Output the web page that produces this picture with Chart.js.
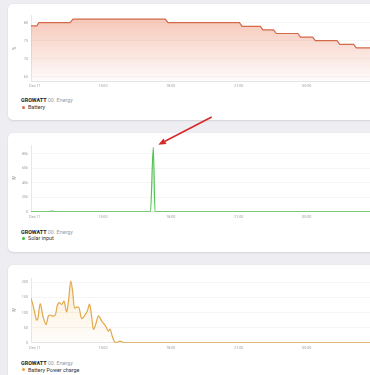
<!DOCTYPE html>
<html><head><meta charset="utf-8">
<script src="https://cdn.jsdelivr.net/npm/chart.js@4"></script>
<style>
html,body{margin:0;padding:0;width:370px;height:375px;overflow:hidden;background:#eeeef2;font-family:Roboto,sans-serif;}
.card{position:absolute;left:8px;width:420px;background:#fff;border-radius:5px;box-shadow:0 1px 2px rgba(0,0,0,0.10),0 0 1px rgba(0,0,0,0.08);}
.card canvas{position:absolute;left:0;}
.t{position:absolute;left:13px;font-size:5.4px;line-height:6px;color:#9b9b9b;white-space:nowrap;}
.t b{color:#222;font-weight:700;}
.l{position:absolute;left:13px;font-size:5.4px;line-height:6px;color:#333;white-space:nowrap;}
.dot{display:inline-block;width:3px;height:3px;border-radius:50%;margin:0 3px 0 1px;vertical-align:0.5px;}
#ov{position:absolute;left:0;top:0;z-index:10;pointer-events:none;}
</style></head>
<body>
<div class="card" id="c1" style="top:4px;height:116px;">
  <canvas id="ch1" width="364" height="84" style="top:4px"></canvas>
  <div class="t" style="top:93px"><b>GROWATT</b> 00. Energy</div>
  <div class="l" style="top:100px"><span class="dot" style="background:#d4694a"></span>Battery</div>
</div>
<div class="card" id="c2" style="top:133px;height:118.5px;">
  <canvas id="ch2" width="364" height="86" style="top:4px"></canvas>
  <div class="t" style="top:96px"><b>GROWATT</b> 00. Energy</div>
  <div class="l" style="top:102px"><span class="dot" style="background:#3dbb3d"></span>Solar input</div>
</div>
<div class="card" id="c3" style="top:265px;height:130px;">
  <canvas id="ch3" width="364" height="85" style="top:4px"></canvas>
  <div class="t" style="top:95px"><b>GROWATT</b> 00. Energy</div>
  <div class="l" style="top:101.5px"><span class="dot" style="background:#e2a336"></span>Battery Power charge</div>
</div>
<canvas id="ov" width="370" height="375"></canvas>
<script>
// x values are hours after Dec 11 12:00
const xTickHours = [0, 3, 6, 9, 12];
const xTickLabels = ['Dec 11', '15:00', '18:00', '21:00', '00:00'];

const batteryHours = [-0.18, 0.08, 0.17, 1.55, 1.68, 5.75, 5.88, 9.03, 9.15, 9.95, 10.07, 10.54, 10.66, 11.61, 11.73, 12.26, 12.38, 13.34, 13.46, 14.07, 14.19, 14.9];
const batteryPct   = [79.1, 79.1, 80, 80, 81, 81, 80, 80, 79, 79, 78, 78, 77, 77, 76, 76, 75, 75, 74, 74, 73, 73];
const batteryTicks = [65, 70, 75, 80];

const solarHours = [-0.18, 0.6, 0.74, 0.9, 5.1, 5.225, 5.3, 14.9];
const solarW     = [0, 0, 900, 0, 0, 88700, 0, 0];
const solarTicks = [0, 20000, 40000, 60000, 80000];

const chargeHours = [-0.18, -0.09, 0, 0.075, 0.13, 0.23, 0.34, 0.49, 0.59, 0.66, 0.81, 0.91, 0.98, 1.07, 1.18, 1.28, 1.40, 1.48, 1.58, 1.67, 1.74, 1.84, 1.93, 2.06, 2.19, 2.31, 2.41, 2.50, 2.58, 2.68, 2.80, 2.95, 3.05, 3.14, 3.24, 3.31, 3.43, 3.53, 3.62, 3.75, 3.89, 3.98, 6, 9, 12, 14.9];
const chargeW     = [148, 125, 95, 75, 82, 130, 92, 60, 89, 92, 88, 95, 122, 133, 127, 138, 102, 140, 205, 165, 115, 118, 118, 80, 90, 105, 128, 88, 44, 61, 89, 72, 62, 53, 38, 45, 17, 2, 1, 5, 1, 0, 0, 0, 0, 0];
const chargeTicks = [0, 50, 100, 150, 200];

const X_MIN = -0.1767, X_MAX = 14.884;

function pts(xs, ys){ return xs.map((x,i)=>({x:x, y:ys[i]})); }
function grad(top, bottom){
  return (ctx)=>{
    const ch = ctx.chart, a = ch.chartArea;
    if(!a) return top;
    const g = ch.ctx.createLinearGradient(0, a.top, 0, a.bottom);
    g.addColorStop(0, top); g.addColorStop(1, bottom);
    return g;
  };
}

function makeChart(id, o){
  return new Chart(document.getElementById(id), {
    type: 'line',
    data: { datasets: [{
      data: pts(o.xs, o.ys),
      borderColor: o.color, borderWidth: 1.2,
      backgroundColor: grad(o.fillTop, o.fillBottom), fill: 'start',
      pointRadius: 0, tension: o.tension || 0,
      cubicInterpolationMode: o.mono ? 'monotone' : 'default'
    }]},
    options: {
      responsive: false, animation: false, devicePixelRatio: 1,
      layout: { padding: { top: o.padTop, right: 0, left: 0, bottom: 0 } },
      plugins: { legend: {display:false}, tooltip: {enabled:false} },
      scales: {
        x: {
          type: 'linear', min: X_MIN, max: X_MAX,
          afterBuildTicks: s => { s.ticks = xTickHours.map(v=>({value:v})); },
          afterFit: s => { s.height = o.xh; },
          grid: { display: false, drawTicks: false },
          border: { display: true, color: '#e4e4e4', width: 1 },
          ticks: { padding: 3, color: '#a0a0a0', font: {family:'Roboto', size: 3.7},
                   maxRotation: 0, autoSkip: false,
                   callback: v => { const i = xTickHours.indexOf(v); return i>=0 ? xTickLabels[i] : ''; } }
        },
        y: {
          min: o.ymin, max: o.ymax,
          afterBuildTicks: s => { s.ticks = o.yticks.map(v=>({value:v})); },
          afterFit: s => { s.width = 23; },
          grid: { color: '#f5f5f5', drawTicks: false, lineWidth: 1 },
          border: { display: true, color: '#e8e8e8', width: 1 },
          ticks: { padding: 3, color: '#a0a0a0', font: {family:'Roboto', size: 3.7}, callback: o.yfmt || (v=>String(v)) },
          title: { display: true, text: o.ytitle, color: '#8a8a8a', font: {family:'Roboto', size: 4.5}, padding: {top: 4.3, bottom: 0} }
        }
      }
    },
    plugins: o.plugins || []
  });
}

makeChart('ch1', { xs: batteryHours, ys: batteryPct, color: '#d4694a',
  fillTop: 'rgba(236,140,110,0.50)', fillBottom: 'rgba(236,140,110,0.03)',
  padTop: 7.5, xh: 11, ymin: 63.8, ymax: 82, yticks: batteryTicks, ytitle: '%' });

const arrowPlugin = {
  id: 'arrow',
  afterDraw(chart){
    const ds = chart.data.datasets[0].data;
    let pi = 0; ds.forEach((p,i)=>{ if(p.y > ds[pi].y) pi = i; });
    const el = chart.getDatasetMeta(0).data[pi];
    const cv = chart.canvas, r = cv.getBoundingClientRect();
    const px = r.left + el.x, py = r.top + el.y;
    const tx = px + 5, ty = py - 2.7, sx = px + 58.4, sy = py - 30.4;
    const c = document.getElementById('ov').getContext('2d');
    c.clearRect(0,0,370,375);
    c.strokeStyle = '#d42a2a'; c.fillStyle = '#d42a2a'; c.lineWidth = 1.6;
    const ang = Math.atan2(ty - sy, tx - sx), L = 7.5, W = 3.2;
    const bx = tx - L*Math.cos(ang), by = ty - L*Math.sin(ang);
    c.beginPath(); c.moveTo(sx, sy); c.lineTo(bx, by); c.stroke();
    c.beginPath(); c.moveTo(tx, ty);
    c.lineTo(bx + W*Math.sin(ang), by - W*Math.cos(ang));
    c.lineTo(bx - W*Math.sin(ang), by + W*Math.cos(ang));
    c.closePath(); c.fill();
  }
};

makeChart('ch2', { xs: solarHours, ys: solarW, color: '#55c255', mono: true, tension: 0.4,
  fillTop: 'rgba(90,200,90,0.18)', fillBottom: 'rgba(90,200,90,0.02)',
  padTop: 8, xh: 11.3, ymin: 0, ymax: 92000, yticks: solarTicks, ytitle: 'W',
  yfmt: v => v === 0 ? '0' : (v/1000) + 'k', plugins: [arrowPlugin] });

makeChart('ch3', { xs: chargeHours, ys: chargeW, color: '#e2a84a', mono: true, tension: 0.4,
  fillTop: 'rgba(242,190,100,0.30)', fillBottom: 'rgba(242,190,100,0.02)',
  padTop: 9, xh: 11.3, ymin: 0, ymax: 215, yticks: chargeTicks, ytitle: 'W' });
</script>
</body></html>
